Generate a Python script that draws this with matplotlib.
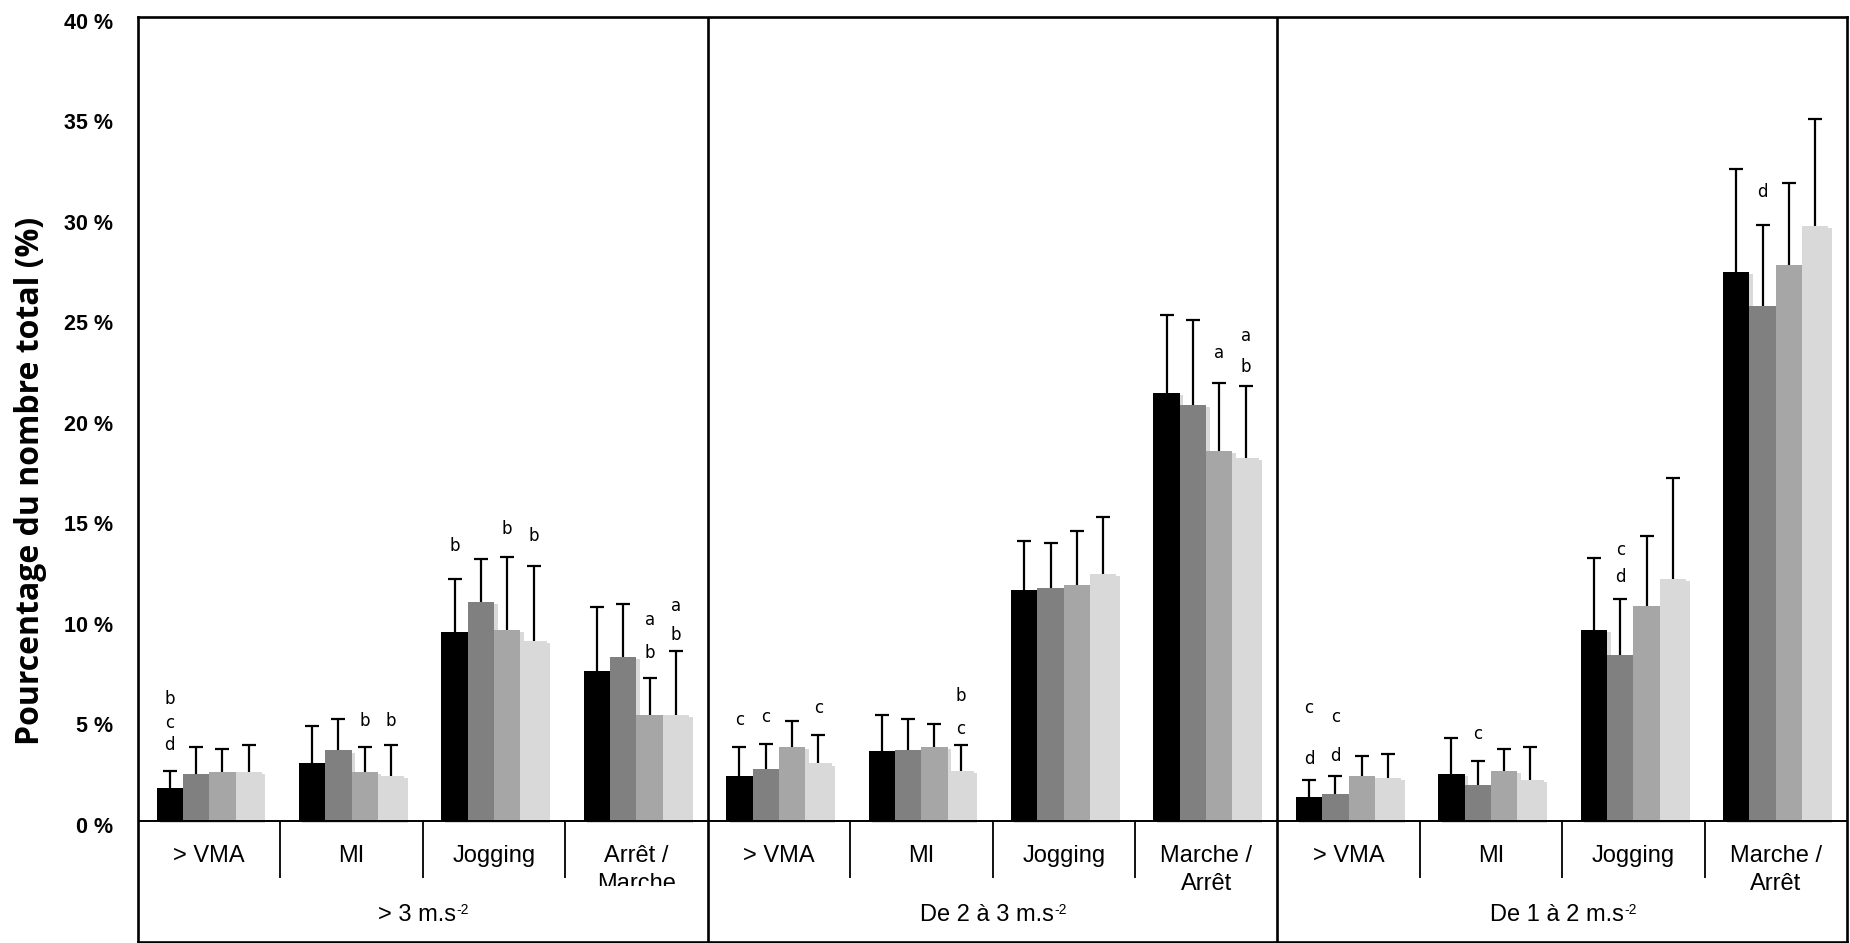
import matplotlib
matplotlib.use("Agg")
import matplotlib.pyplot as plt
import matplotlib.patheffects as pe
from matplotlib.transforms import Bbox, TransformedBbox, ScaledTranslation
import numpy as np

# ---------------- data ----------------
group_labels = ["> 3 m.s", "De 2 à 3 m.s", "De 1 à 2 m.s"]
group_unit_exp = "-2"
categories = ["> VMA", "MI", "Jogging", "Arrêt /\nMarche",
              "> VMA", "MI", "Jogging", "Marche /\nArrêt",
              "> VMA", "MI", "Jogging", "Marche /\nArrêt"]
series_colors = ["#000000", "#808080", "#A6A6A6", "#D9D9D9"]

mean_s1 = [1.65, 2.85, 9.4, 7.45, 2.25, 3.45, 11.5, 21.3, 1.2, 2.35, 9.5, 27.3]
mean_s2 = [2.35, 3.5, 10.9, 8.15, 2.6, 3.5, 11.6, 20.7, 1.35, 1.8, 8.25, 25.6]
mean_s3 = [2.45, 2.45, 9.5, 5.25, 3.65, 3.65, 11.75, 18.4, 2.25, 2.5, 10.7, 27.65]
mean_s4 = [2.45, 2.25, 8.95, 5.25, 2.85, 2.5, 12.3, 18.05, 2.15, 2.05, 12.05, 29.6]

sd_s1 = [0.85, 1.85, 2.65, 3.2, 1.4, 1.8, 2.4, 3.85, 0.85, 1.75, 3.55, 5.1]
sd_s2 = [1.3, 1.55, 2.1, 2.65, 1.2, 1.55, 2.2, 4.2, 0.9, 1.15, 2.8, 4.05]
sd_s3 = [1.1, 1.2, 3.6, 1.85, 1.3, 1.15, 2.65, 3.4, 0.95, 1.05, 3.45, 4.1]
sd_s4 = [1.3, 1.5, 3.7, 3.2, 1.4, 1.25, 2.8, 3.6, 1.15, 1.6, 5.0, 5.3]

# significance letters: category index, series index, letter, height (%)
ann_cat = [0, 0, 0, 1, 1, 2, 2, 2, 3, 3, 3, 3,
           4, 4, 4, 5, 5, 7, 7, 7,
           8, 8, 8, 8, 9, 10, 10, 11]
ann_series = [0, 0, 0, 2, 3, 0, 2, 3, 2, 2, 3, 3,
              0, 1, 3, 3, 3, 2, 3, 3,
              0, 0, 1, 1, 1, 1, 1, 1]
ann_text = ["b", "c", "d", "b", "b", "b", "b", "b", "a", "b", "a", "b",
            "c", "c", "c", "b", "c", "a", "a", "b",
            "c", "d", "c", "d", "c", "c", "d", "d"]
ann_y = [6.05, 4.85, 3.75, 4.95, 4.95, 13.67, 14.5, 14.15, 10.0, 8.37, 10.7, 9.25,
         5.03, 5.15, 5.6, 6.22, 4.57, 23.25, 24.1, 22.55,
         5.6, 3.08, 5.15, 3.2, 4.33, 13.45, 12.12, 31.28]

yticks = [0, 5, 10, 15, 20, 25, 30, 35, 40]

# ---------------- figure ----------------
W, H = 1850, 943
fig = plt.figure(figsize=(W / 100, H / 100), dpi=100)
left_px, right_px, top_px, bot_px = 138, 1847, 16.7, 942
ax = fig.add_axes([left_px / W, 1 - bot_px / H,
                   (right_px - left_px) / W, (bot_px - top_px) / H])

ymin = -6.03
ax.set_xlim(0, 12)
ax.set_ylim(ymin, 40)

means = [mean_s1, mean_s2, mean_s3, mean_s4]
sds = [sd_s1, sd_s2, sd_s3, sd_s4]
x = np.arange(len(categories)) + 0.5
bw = 0.185
shadow = [pe.SimplePatchShadow(offset=(2.5, -1.5), shadow_rgbFace="#000000", alpha=0.15),
          pe.Normal()]
for j in range(4):
    xs = x + (j - 1.5) * bw
    bars = ax.bar(xs, means[j], width=bw, color=series_colors[j],
                  edgecolor="none", zorder=3)
    for b in bars:
        b.set_path_effects(shadow)
    eb = ax.errorbar(xs, means[j], yerr=[np.zeros(len(xs)), sds[j]],
                     fmt="none", ecolor="black", elinewidth=1.6,
                     capsize=4.8, capthick=1.6, zorder=4)
    eb[1][0].set_visible(False)

# letters
for c, s, t, yv in zip(ann_cat, ann_series, ann_text, ann_y):
    ax.text(x[c] + (s - 1.5) * bw, yv, t, ha="center", va="center",
            fontsize=12, family="DejaVu Sans", color="black", zorder=5)

# frame / dividers
for sp in ax.spines.values():
    sp.set_linewidth(1.9)
    sp.set_color("black")
ax.axhline(0, color="black", lw=1.4, zorder=6)
for xv in [4, 8]:
    ax.axvline(xv, color="black", lw=1.9, zorder=6)
sep_x = [1, 2, 3, 5, 6, 7, 9, 10, 11]
ax.vlines(sep_x, -2.85, 0, color="black", lw=1.3, zorder=6)

# category labels
label_font = "Liberation Sans"
for i, cat in enumerate(categories):
    if "\n" in cat:
        t = ax.text(x[i], -2.45, cat, ha="center", va="center", fontsize=17,
                    family=label_font, linespacing=1.3)
        if i == 3:
            bb = TransformedBbox(Bbox([[3, -3.25], [4, 0]]), ax.transData)
            t.set_clip_box(bb)
            t.set_clip_on(True)
    else:
        ax.text(x[i], -1.76, cat, ha="center", va="center", fontsize=17,
                family=label_font)
for g, gl in enumerate(group_labels):
    t1 = ax.text(4 * g + 2 - 0.04, -4.69, gl, ha="center", va="center",
                 fontsize=17, family=label_font)
    ax.annotate(group_unit_exp, xy=(1, 1), xycoords=t1, xytext=(0.5, 0.5),
                textcoords="offset points", ha="left", va="top",
                fontsize=10, family=label_font)

# y axis
ax.set_xticks([])
ax.set_yticks(yticks)
ax.set_yticklabels([f"{v} %" for v in yticks])
ax.tick_params(axis="y", length=0, pad=18)
off = ScaledTranslation(0, -4 / 100, fig.dpi_scale_trans)
for lab in ax.get_yticklabels():
    lab.set_fontfamily(label_font)
    lab.set_fontweight("bold")
    lab.set_fontsize(15.5)
    lab.set_transform(lab.get_transform() + off)

fig.text(31 / W, 1 - 481 / H, "Pourcentage du nombre total (%)",
         rotation=90, ha="center", va="center", fontsize=23,
         fontweight="bold", family="Open Sans")

fig.savefig("out.png", dpi=100)
